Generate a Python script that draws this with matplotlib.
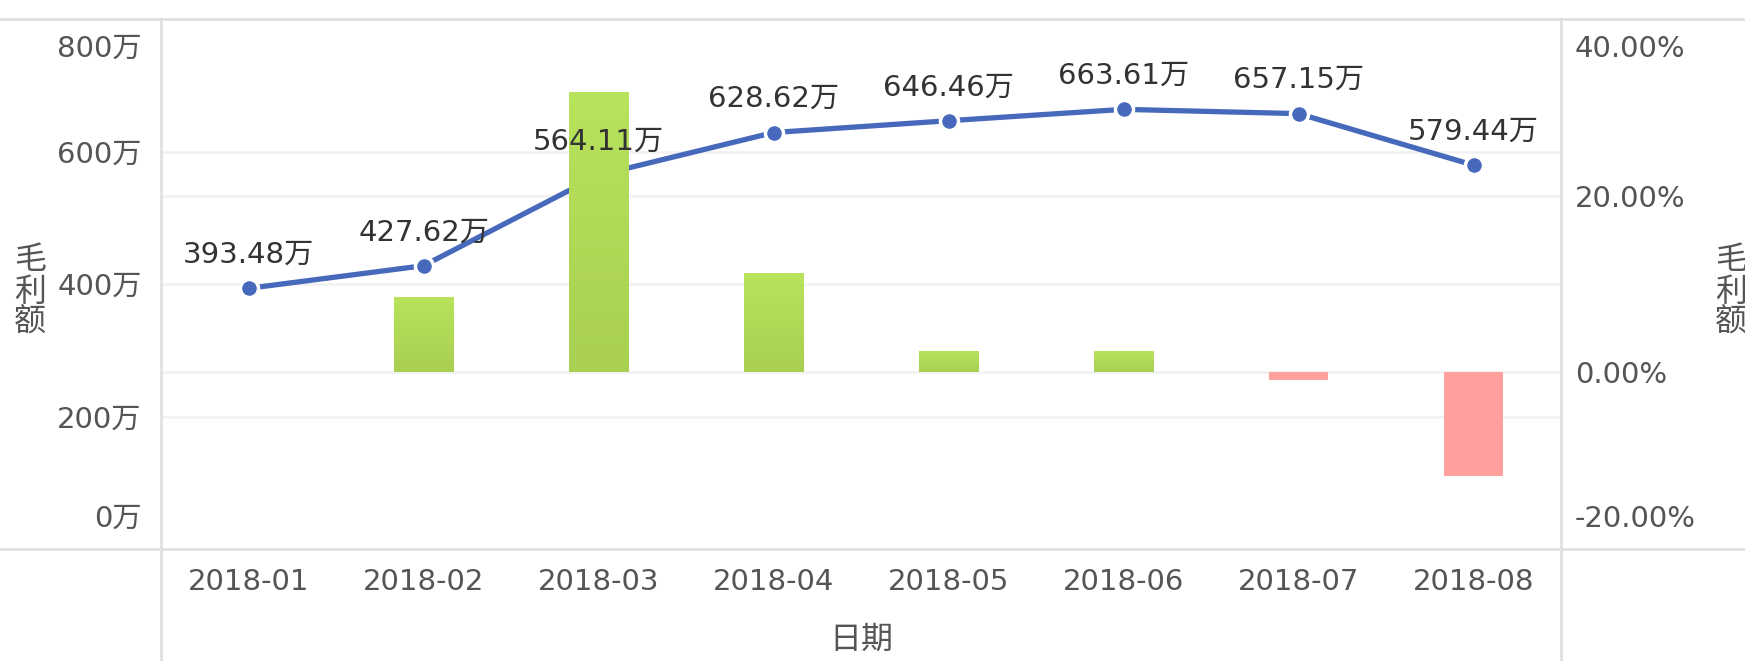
import numpy as np
import matplotlib.pyplot as plt
from matplotlib.colors import LinearSegmentedColormap
from matplotlib.transforms import offset_copy

plt.rcParams['font.family'] = ['DejaVu Sans', 'Noto Sans CJK SC']

months = ['2018-01', '2018-02', '2018-03', '2018-04', '2018-05', '2018-06', '2018-07', '2018-08']
profit = [393.48, 427.62, 564.11, 628.62, 646.46, 663.61, 657.15, 579.44]   # 万
growth = [np.nan, 8.5, 31.7, 11.2, 2.4, 2.4, -0.9, -11.7]                    # %
left_ticks = [0, 200, 400, 600, 800]
right_ticks = [-20, 0, 20, 40]

W, H = 1745, 661
fig = plt.figure(figsize=(W / 100, H / 100), dpi=100)
L, R, T, B = 161, 1561, 19, 549
ax = fig.add_axes([L / W, 1 - B / H, (R - L) / W, (B - T) / H])
ax2 = ax.twinx()

x = np.arange(len(months))
gray = '#e0e0e0'
fs = 21

# line on the left (万) axis, drawn under the bars
ax.plot(x, profit, color='#4769bb', lw=3.8, marker='o', ms=13,
        mfc='#4769bb', mec='white', mew=2.5, zorder=3)
ax.set_ylim(0, 800)
ax.set_yticks(left_ticks)
ax.set_yticklabels([f'{t}万' for t in left_ticks])
ax.set_xlim(-0.5, len(months) - 0.5)
ax.set_xticks(x)
ax.set_xticklabels(months)
for v in left_ticks[1:-1]:
    ax.axhline(v, color='#f2f2f2', lw=2, zorder=0)

# bars on the right (%) axis
g = np.nan_to_num(np.array(growth, dtype=float))
colors = ['#b1dc56' if v >= 0 else '#ffa09d' for v in g]
bars = ax2.bar(x, g, width=0.34, color=colors, zorder=2)
green = LinearSegmentedColormap.from_list('g', ['#a9d051', '#b8e35c'])
grad = np.linspace(0, 1, 64).reshape(-1, 1)
for b, v in zip(bars, g):
    if v > 0:
        x0, y0 = b.get_x(), b.get_y()
        im = ax2.imshow(grad, cmap=green, origin='lower', aspect='auto',
                        extent=[x0, x0 + b.get_width(), y0, y0 + b.get_height()], zorder=2.1)
        im.set_clip_path(b)
ax2.set_xlim(-0.5, len(months) - 0.5)
ax2.set_ylim(-20, 40)
ax2.set_yticks(right_ticks)
ax2.set_yticklabels([f'{t:.2f}%' for t in right_ticks])
for v in [0, 20]:
    ax.axhline(ax.transData.inverted().transform(ax2.transData.transform((0, v)))[1],
               color='#f2f2f2', lw=2, zorder=0)

# data labels above points
for i, v in enumerate(profit):
    ax2.annotate(f'{v:.2f}万', xy=(i, v), xycoords=ax.transData,
                 xytext=(0, 14), textcoords='offset points',
                 ha='center', va='bottom', fontsize=fs, color='#333333', zorder=5)

for a in (ax, ax2):
    for s in a.spines.values():
        s.set_visible(False)
    a.tick_params(length=0, labelsize=fs, labelcolor='#555555')
ax.tick_params(axis='y', pad=14)
ax2.tick_params(axis='y', pad=10)
ax.tick_params(axis='x', pad=14)

# keep end labels inside the plot
fig.canvas.draw()
for a in (ax, ax2):
    labs = a.get_yticklabels()
    labs[0].set_va('bottom')
    labs[0].set_transform(offset_copy(labs[0].get_transform(), fig=fig, y=16, units='dots'))
    labs[-1].set_va('top')
    labs[-1].set_transform(offset_copy(labs[-1].get_transform(), fig=fig, y=-16, units='dots'))

# frame lines
fig.add_artist(plt.Line2D([0, 1], [1 - T / H, 1 - T / H], color=gray, lw=2))
fig.add_artist(plt.Line2D([0, 1], [1 - B / H, 1 - B / H], color=gray, lw=2))
fig.add_artist(plt.Line2D([L / W, L / W], [0, 1 - T / H], color=gray, lw=2))
fig.add_artist(plt.Line2D([R / W, R / W], [0, 1 - T / H], color=gray, lw=2))

fig.text(30 / W, 1 - 292 / H, '毛\n利\n额', ha='center', va='center',
         fontsize=23, color='#555555', linespacing=1.02)
fig.text(1731 / W, 1 - 292 / H, '毛\n利\n额', ha='center', va='center',
         fontsize=23, color='#555555', linespacing=1.02)
fig.text((L + R) / 2 / W, 1 - 640 / H, '日期', ha='center', va='center',
         fontsize=23, color='#555555')

fig.savefig('out.png', dpi=100, facecolor='white')
